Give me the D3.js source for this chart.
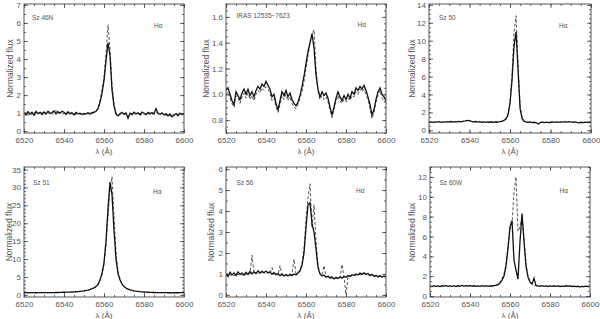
<!DOCTYPE html>
<html>
<head>
<meta charset="utf-8">
<script src="https://cdn.jsdelivr.net/npm/d3@7"></script>
<style>
  body { margin: 0; background: #fff; }
  svg text { font-family: "Liberation Sans", Arial, sans-serif; fill: #555; }
</style>
</head>
<body>
<svg id="chart" width="600" height="319"></svg>
<script>
// ---- data ----
const xTicks = [6520, 6540, 6560, 6580, 6600];
const starNames = ["Sz 46N", "IRAS 12535\u22127623", "Sz 50", "Sz 51", "Sz 56", "Sz 60W"];
const lineName = "H\u03b1";
const yRanges = [[-0.1, 7.05], [0.7, 1.7], [-0.3, 14.1], [-0.6, 35.7], [-0.1, 6.1], [-0.1, 13]];
const yTicks = [
  [0, 1, 2, 3, 4, 5, 6, 7],
  [0.8, 1.0, 1.2, 1.4, 1.6],
  [0, 2, 4, 6, 8, 10, 12, 14],
  [0, 5, 10, 15, 20, 25, 30, 35],
  [0, 1, 2, 3, 4, 5, 6],
  [0, 2, 4, 6, 8, 10, 12]
];
const yMinorStep = [0.5, 0.05, 0.5, 1, 0.5, 0.5];
const yFormats = ["d", ".1f", "d", "d", "d", "d"];

// flux sampled every 1 A, first value at the start wavelength
const solidStart = [6520, 6520, 6520, 6520, 6520, 6520];
const dashStart = [6520, 6520, 6550, 6550, 6520, 6550];

const sz46nSolid = [1.02, 0.90, 1.08, 0.95, 1.05, 0.88, 1.10, 0.97, 1.04, 0.92,
  1.06, 0.95, 1.10, 0.98, 1.03, 1.12, 0.96, 1.08, 1.00, 1.10,
  1.05, 0.93, 1.08, 0.97, 1.02, 0.90, 1.04, 0.96, 1.00, 0.92,
  0.98, 0.95, 1.02, 0.96, 1.03, 1.05, 1.10, 1.25, 1.60, 2.10,
  2.80, 3.90, 4.90, 4.20, 2.30, 1.40, 0.95, 0.85, 0.97, 1.05,
  0.93, 1.02, 0.72, 1.00, 0.92, 1.05, 0.95, 1.02, 0.90, 1.06,
  0.98, 0.92, 1.04, 0.96, 1.03, 0.95, 1.25, 1.00, 0.94, 1.02,
  0.90, 0.97, 0.85, 0.95, 0.80, 0.90, 0.97, 0.86, 1.00, 0.92, 0.95];
const sz46nDash = [0.95, 1.04, 0.88, 1.00, 0.93, 1.07, 0.90, 1.02, 0.94, 1.05,
  0.92, 1.03, 0.97, 1.08, 0.94, 1.02, 1.15, 0.98, 1.05, 0.99,
  0.97, 1.06, 0.94, 1.01, 0.95, 1.03, 0.92, 1.00, 0.94, 0.99,
  0.93, 1.01, 0.95, 1.00, 0.97, 1.04, 1.10, 1.30, 1.70, 2.30,
  3.00, 4.30, 5.90, 4.60, 2.50, 1.50, 1.00, 0.90, 0.92, 0.98,
  1.00, 0.94, 0.80, 0.96, 1.01, 0.93, 1.00, 0.95, 0.98, 0.92,
  1.01, 0.96, 0.93, 1.02, 0.94, 1.00, 1.05, 0.97, 0.90, 0.98,
  0.94, 0.88, 0.96, 0.82, 0.92, 0.86, 0.93, 0.95, 0.88, 0.97, 0.90];

const irasSolid = [1.03, 1.05, 1.00, 0.95, 0.92, 1.02, 0.99, 0.96, 1.01, 1.04,
  1.00, 1.04, 0.99, 1.02, 0.98, 1.03, 1.06, 1.04, 1.08, 1.06,
  1.10, 1.07, 1.04, 0.98, 1.00, 0.93, 0.88, 0.95, 1.02, 0.99,
  1.03, 0.98, 1.01, 0.96, 0.93, 0.91, 0.94, 0.99, 1.06, 1.14,
  1.24, 1.33, 1.40, 1.47, 1.36, 1.15, 1.04, 0.98, 1.02, 0.99,
  1.01, 0.97, 0.90, 0.84, 0.90, 0.97, 1.02, 0.98, 0.95, 0.99,
  0.96, 1.00, 0.97, 1.02, 1.00, 1.05, 1.03, 1.06, 1.04, 1.07,
  1.03, 0.98, 0.92, 0.84, 0.88, 0.96, 1.02, 1.05, 1.00, 0.98, 0.95];
const irasDash = [1.00, 1.02, 0.97, 0.93, 0.90, 0.99, 0.97, 0.93, 0.98, 1.01,
  0.97, 1.01, 0.96, 0.99, 0.95, 1.00, 1.03, 1.01, 1.05, 1.03,
  1.06, 1.04, 1.01, 0.95, 0.97, 0.90, 0.86, 0.92, 0.99, 0.96,
  1.00, 0.95, 0.98, 0.93, 0.90, 0.89, 0.92, 0.97, 1.02, 1.10,
  1.20, 1.30, 1.39, 1.46, 1.50, 1.20, 1.02, 0.96, 0.99, 0.96,
  0.98, 0.94, 0.88, 0.82, 0.88, 0.95, 0.99, 0.95, 0.93, 0.96,
  0.94, 0.97, 0.95, 0.99, 0.98, 1.02, 1.00, 1.04, 1.02, 1.04,
  1.00, 0.96, 0.89, 0.81, 0.86, 0.94, 0.99, 1.03, 0.97, 0.95, 0.93];

const sz50Solid = [0.90, 0.95, 0.88, 0.93, 0.91, 0.96, 0.89, 0.94, 0.92, 0.97,
  0.93, 0.98, 0.92, 0.96, 0.94, 1.00, 0.95, 1.02, 1.05, 1.10,
  1.08, 1.00, 0.95, 0.98, 0.92, 0.96, 0.90, 0.94, 0.88, 0.93,
  0.90, 0.95, 0.89, 0.93, 0.91, 0.96, 1.00, 1.10, 1.25, 1.70,
  3.00, 5.60, 9.40, 11.0, 6.60, 2.40, 1.30, 1.00, 0.92, 0.88,
  0.93, 0.86, 0.90, 0.84, 0.70, 0.88, 0.92, 0.86, 0.91, 0.85,
  0.90, 0.94, 0.88, 0.93, 0.89, 0.95, 0.91, 0.96, 0.92, 0.97,
  0.93, 0.90, 0.95, 0.88, 0.84, 0.90, 0.86, 0.92, 0.88, 0.91, 0.89];
const sz50Dash = [0.92, 0.93, 0.91, 0.95, 0.93, 0.98, 1.02, 1.12, 1.30, 1.80,
  3.20, 6.20, 11.0, 12.8, 7.30, 2.70, 1.35, 1.02, 0.94, 0.90, 0.92];

const sz51Solid = [0.60, 0.62, 0.58, 0.61, 0.60, 0.63, 0.59, 0.61, 0.60, 0.62,
  0.61, 0.60, 0.63, 0.62, 0.64, 0.63, 0.65, 0.66, 0.68, 0.70,
  0.72, 0.74, 0.76, 0.78, 0.80, 0.83, 0.87, 0.92, 0.98, 1.05,
  1.12, 1.22, 1.35, 1.50, 1.70, 1.95, 2.30, 2.90, 4.20, 6.00,
  9.00, 15.0, 24.0, 31.5, 28.0, 18.0, 10.0, 6.00, 4.20, 3.00,
  2.30, 1.90, 1.60, 1.40, 1.25, 1.12, 1.02, 0.95, 0.88, 0.83,
  0.80, 0.76, 0.73, 0.70, 0.68, 0.66, 0.64, 0.63, 0.62, 0.61,
  0.60, 0.60, 0.58, 0.59, 0.55, 0.58, 0.60, 0.59, 0.61, 0.60, 0.60];
const sz51Dash = [1.10, 1.20, 1.32, 1.48, 1.68, 1.92, 2.25, 2.80, 4.00, 5.60,
  8.50, 14.0, 22.0, 29.5, 33.0, 22.0, 12.0, 6.50, 4.40, 3.10,
  2.40, 1.95, 1.62, 1.42, 1.26, 1.13];

const sz56Solid = [1.00, 0.88, 1.08, 0.95, 1.05, 0.92, 1.10, 0.98, 1.04, 0.94,
  1.08, 0.98, 1.12, 1.00, 1.10, 1.02, 1.15, 1.04, 1.12, 1.06,
  1.14, 1.05, 1.10, 0.98, 1.06, 0.96, 1.02, 0.92, 0.99, 0.90,
  0.97, 0.90, 0.98, 0.92, 1.00, 0.95, 1.04, 1.15, 1.40, 2.00,
  3.20, 4.30, 4.40, 3.40, 3.00, 2.20, 1.30, 1.00, 0.90, 0.95,
  0.85, 0.90, 0.80, 0.86, 0.76, 0.84, 0.78, 0.86, 0.80, 0.88,
  0.84, 0.92, 0.88, 0.96, 0.92, 1.00, 0.95, 1.04, 0.98, 1.05,
  0.97, 1.02, 0.92, 0.98, 0.88, 0.94, 0.86, 0.92, 0.84, 0.90, 0.86];
const sz56Dash = [0.95, 1.02, 0.92, 1.00, 0.90, 1.04, 0.96, 1.02, 0.93, 1.00,
  0.97, 1.05, 1.00, 1.90, 1.02, 1.08, 1.00, 1.10, 1.03, 1.08,
  1.02, 1.08, 1.00, 1.30, 0.97, 1.02, 0.94, 1.40, 0.95, 0.92,
  0.94, 0.96, 0.92, 1.00, 1.70, 1.00, 1.06, 1.18, 1.50, 2.20,
  3.60, 4.60, 5.30, 3.20, 4.30, 2.60, 1.40, 1.02, 0.94, 1.40,
  0.88, 0.84, 0.86, 0.80, 0.82, 0.78, 0.83, 0.80, 1.45, 0.86,
  0.00, 0.88, 0.92, 0.90, 0.96, 0.94, 0.98, 0.97, 1.00, 1.02,
  1.00, 0.98, 0.95, 0.93, 0.90, 0.91, 0.88, 0.89, 0.86, 0.88, 0.84];

const sz60wSolid = [1.00, 0.96, 1.04, 0.98, 1.02, 0.95, 1.03, 0.99, 1.05, 0.97,
  1.02, 0.98, 1.04, 0.96, 1.03, 1.00, 1.06, 0.98, 1.04, 1.01,
  1.05, 0.99, 1.03, 0.97, 1.02, 0.98, 1.04, 1.00, 1.03, 0.99,
  1.02, 1.00, 1.05, 1.08, 1.15, 1.30, 1.60, 2.00, 3.00, 4.80,
  7.00, 7.60, 3.60, 2.60, 1.70, 5.50, 8.30, 5.50, 3.00, 1.90,
  1.40, 1.20, 1.80, 1.05, 1.02, 0.98, 1.04, 0.97, 1.02, 0.96,
  1.01, 0.97, 1.03, 0.98, 1.02, 0.96, 1.00, 0.97, 1.03, 0.99,
  1.02, 0.96, 1.00, 0.94, 0.98, 0.92, 0.97, 0.95, 0.99, 0.96, 0.98];
const sz60wDash = [1.00, 1.03, 1.06, 1.10, 1.20, 1.35, 1.70, 2.20, 3.20, 5.00,
  6.80, 7.20, 10.5, 12.0, 6.50, 7.00, 8.00, 5.80, 3.20, 2.00,
  1.50, 1.25, 1.10, 1.05, 1.00, 1.02];

const solidFlux = [sz46nSolid, irasSolid, sz50Solid, sz51Solid, sz56Solid, sz60wSolid];
const dashFlux = [sz46nDash, irasDash, sz50Dash, sz51Dash, sz56Dash, sz60wDash];

// ---- layout (pixels) ----
const frames = [
  { x0: 24,  x1: 184, y0: 4,   y1: 133, titleX: 10,  name: [8, 15.5],  ha: [130, 23.5] },
  { x0: 226, x1: 386, y0: 4,   y1: 133, titleX: 206, name: [10.5, 14], ha: [131.5, 22.5] },
  { x0: 429, x1: 591, y0: 4,   y1: 133, titleX: 412, name: [10, 16],   ha: [130, 23.5] },
  { x0: 24,  x1: 184, y0: 167, y1: 297, titleX: 9,   name: [9, 17.5],  ha: [129, 27] },
  { x0: 226, x1: 386, y0: 167, y1: 297, titleX: 211, name: [10.5, 17.5], ha: [130, 25.5] },
  { x0: 430, x1: 590, y0: 167, y1: 297, titleX: 412, name: [9.5, 17.8], ha: [129.5, 26] }
];

const svg = d3.select("#chart");

function clean(g) {
  g.select(".domain").remove();
  g.attr("font-family", null).attr("font-size", null).attr("color", "#444");
  g.selectAll("line").attr("stroke-width", 0.8);
}

frames.forEach((f, i) => {
  const x = d3.scaleLinear().domain([6520, 6600]).range([f.x0, f.x1]);
  const y = d3.scaleLinear().domain(yRanges[i]).range([f.y1, f.y0]);
  const g = svg.append("g");

  g.append("clipPath").attr("id", "clip" + i)
    .append("rect").attr("x", f.x0).attr("y", f.y0)
    .attr("width", f.x1 - f.x0).attr("height", f.y1 - f.y0);

  const plot = g.append("g").attr("clip-path", `url(#clip${i})`);

  const dashLine = d3.line().x((d, j) => x(dashStart[i] + j)).y(d => y(d));
  const solidLine = d3.line().x((d, j) => x(solidStart[i] + j)).y(d => y(d));

  plot.append("path").datum(dashFlux[i])
    .attr("d", dashLine).attr("fill", "none")
    .attr("stroke", "#555").attr("stroke-width", 1)
    .attr("stroke-dasharray", "3,2");
  plot.append("path").datum(solidFlux[i])
    .attr("d", solidLine).attr("fill", "none")
    .attr("stroke", "#111").attr("stroke-width", 1.3);

  const xMinor = d3.range(6520, 6601, 5);
  const [lo, hi] = yRanges[i];
  const st = yMinorStep[i];
  const yMinor = d3.range(Math.ceil(lo / st) * st, hi + 1e-9, st);

  // bottom / top
  g.append("g").attr("transform", `translate(0,${f.y1})`)
    .call(d3.axisBottom(x).tickValues(xTicks).tickSize(-4).tickPadding(4).tickFormat(d3.format("d")))
    .call(clean).selectAll("text").attr("font-size", 8);
  g.append("g").attr("transform", `translate(0,${f.y1})`)
    .call(d3.axisBottom(x).tickValues(xMinor).tickSize(-2).tickFormat("")).call(clean);
  g.append("g").attr("transform", `translate(0,${f.y0})`)
    .call(d3.axisTop(x).tickValues(xTicks).tickSize(-4).tickFormat("")).call(clean);
  g.append("g").attr("transform", `translate(0,${f.y0})`)
    .call(d3.axisTop(x).tickValues(xMinor).tickSize(-2).tickFormat("")).call(clean);

  // left / right
  g.append("g").attr("transform", `translate(${f.x0},0)`)
    .call(d3.axisLeft(y).tickValues(yTicks[i]).tickSize(-4).tickPadding(3).tickFormat(d3.format(yFormats[i])))
    .call(clean).selectAll("text").attr("font-size", 8);
  g.append("g").attr("transform", `translate(${f.x0},0)`)
    .call(d3.axisLeft(y).tickValues(yMinor).tickSize(-2).tickFormat("")).call(clean);
  g.append("g").attr("transform", `translate(${f.x1},0)`)
    .call(d3.axisRight(y).tickValues(yTicks[i]).tickSize(-4).tickFormat("")).call(clean);
  g.append("g").attr("transform", `translate(${f.x1},0)`)
    .call(d3.axisRight(y).tickValues(yMinor).tickSize(-2).tickFormat("")).call(clean);

  g.append("rect")
    .attr("x", f.x0).attr("y", f.y0)
    .attr("width", f.x1 - f.x0).attr("height", f.y1 - f.y0)
    .attr("fill", "none").attr("stroke", "#444").attr("stroke-width", 0.9);

  // titles
  g.append("text")
    .attr("transform", `translate(${f.titleX},${(f.y0 + f.y1) / 2}) rotate(-90)`)
    .attr("text-anchor", "middle").attr("dy", "0.35em")
    .attr("font-size", 8.5).text("Normalized flux");
  g.append("text")
    .attr("x", (f.x0 + f.x1) / 2).attr("y", f.y1 + 20.5)
    .attr("text-anchor", "middle").attr("font-size", 8)
    .text("\u03bb (\u00c5)");

  g.append("text").attr("x", f.x0 + f.name[0]).attr("y", f.y0 + f.name[1])
    .attr("font-size", 6.5).text(starNames[i]);
  g.append("text").attr("x", f.x0 + f.ha[0]).attr("y", f.y0 + f.ha[1])
    .attr("font-size", 6.5).text(lineName);
});
</script>
</body>
</html>
